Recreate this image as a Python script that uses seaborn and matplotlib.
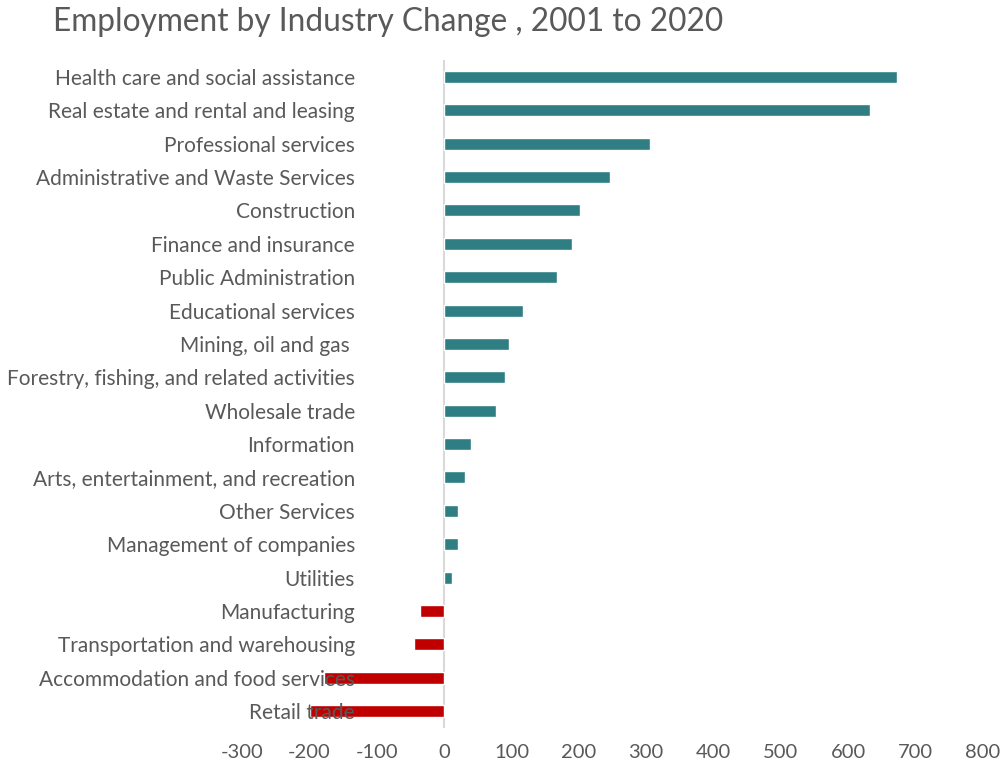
import matplotlib
matplotlib.use("Agg")
import matplotlib.pyplot as plt
import seaborn as sns
import pandas as pd

industries = [
    "Health care and social assistance",
    "Real estate and rental and leasing",
    "Professional services",
    "Administrative and Waste Services",
    "Construction",
    "Finance and insurance",
    "Public Administration",
    "Educational services",
    "Mining, oil and gas ",
    "Forestry, fishing, and related activities",
    "Wholesale trade",
    "Information",
    "Arts, entertainment, and recreation",
    "Other Services",
    "Management of companies",
    "Utilities",
    "Manufacturing",
    "Transportation and warehousing",
    "Accommodation and food services",
    "Retail trade",
]
change = [672, 632, 305, 246, 202, 190, 167, 117, 96, 90, 77, 40, 31, 20, 20, 12,
          -36, -45, -178, -199]
x_ticks = [-300, -200, -100, 0, 100, 200, 300, 400, 500, 600, 700, 800]

df = pd.DataFrame({"industry": industries, "change": change})
df["direction"] = ["gain" if v >= 0 else "loss" for v in df["change"]]

sns.set_style("white")
plt.rcParams["font.family"] = ["Lato", "DejaVu Sans"]

text_color = "#595959"
fig = plt.figure(figsize=(10.03, 7.69), dpi=100)
ax = fig.add_axes([242 / 1003, 1 - 727.7 / 769, (983 - 242) / 1003, (727.7 - 60.3) / 769])

sns.barplot(data=df, x="change", y="industry", hue="direction",
            palette={"gain": "#2E7E84", "loss": "#C00000"},
            dodge=False, width=0.36, orient="h", legend=False, ax=ax,
            saturation=1)

# keep the category labels on top of the bars
ax.set_axisbelow(False)
ax.set_xlim(-300, 800)
ax.set_ylim(len(industries) - 0.5, -0.5)
ax.set_xticks(x_ticks)
ax.set_xticklabels([str(t) for t in x_ticks])
ax.set_xlabel("")
ax.set_ylabel("")

for side in ["top", "right", "bottom", "left"]:
    ax.spines[side].set_visible(False)
ax.axvline(0, color="#D9D9D9", lw=1.5, zorder=0.5)

ax.tick_params(axis="x", length=0, pad=12, labelsize=14.5, labelcolor=text_color)
ax.tick_params(axis="y", length=0, pad=-(355 - 242) * 0.72, labelsize=15,
               labelcolor=text_color)
for lbl in ax.get_yticklabels():
    lbl.set_horizontalalignment("right")

fig.text(53 / 1003, 1 - 22 / 769, "Employment by Industry Change , 2001 to 2020",
         fontsize=22.8, color=text_color, va="center", ha="left")

fig.savefig("out.png", dpi=100)
